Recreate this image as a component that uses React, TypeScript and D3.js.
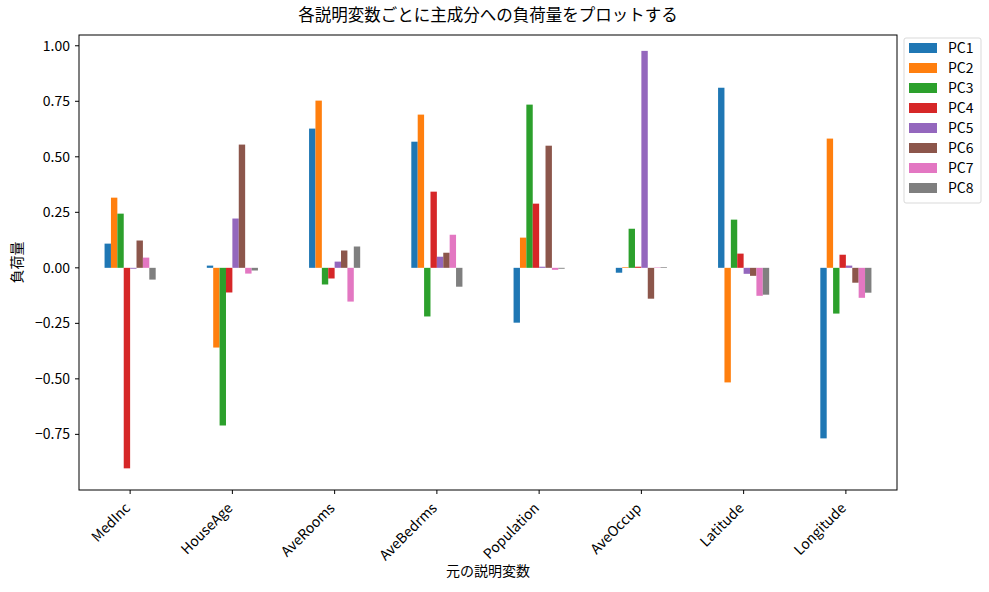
import * as d3 from 'd3'

const width = 989
const height = 592

const margin = { top: 35, right: 92, bottom: 102, left: 79 }
const innerWidth = width - margin.left - margin.right
const innerHeight = height - margin.top - margin.bottom

const font = '"Noto Sans CJK JP", "DejaVu Sans", sans-serif'

const variables = ['MedInc', 'HouseAge', 'AveRooms', 'AveBedrms', 'Population', 'AveOccup', 'Latitude', 'Longitude']
const components = ['PC1', 'PC2', 'PC3', 'PC4', 'PC5', 'PC6', 'PC7', 'PC8']
const colors = ['#1f77b4', '#ff7f0e', '#2ca02c', '#d62728', '#9467bd', '#8c564b', '#e377c2', '#7f7f7f']

// loadings: one row per variable, one value per component
const medInc = [0.109, 0.316, 0.244, -0.903, -0.004, 0.123, 0.046, -0.053]
const houseAge = [0.01, -0.359, -0.71, -0.111, 0.222, 0.555, -0.026, -0.012]
const aveRooms = [0.627, 0.753, -0.075, -0.048, 0.028, 0.078, -0.152, 0.096]
const aveBedrms = [0.568, 0.69, -0.219, 0.343, 0.05, 0.068, 0.149, -0.085]
const population = [-0.247, 0.136, 0.735, 0.289, 0.005, 0.55, -0.009, -0.004]
const aveOccup = [-0.022, 0.003, 0.176, 0.005, 0.977, -0.139, 0.002, 0.003]
const latitude = [0.811, -0.516, 0.217, 0.064, -0.027, -0.036, -0.126, -0.121]
const longitude = [-0.768, 0.582, -0.206, 0.059, 0.01, -0.067, -0.135, -0.112]

const loadings = [medInc, houseAge, aveRooms, aveBedrms, population, aveOccup, latitude, longitude]

const yTicks = [-0.75, -0.5, -0.25, 0, 0.25, 0.5, 0.75, 1.0]

const App = () => {
  const xScale = d3.scaleBand().domain(variables).range([0, innerWidth]).paddingInner(0.5).paddingOuter(0.25)
  const xInner = d3.scaleBand().domain(components).range([0, xScale.bandwidth()])
  const yScale = d3.scaleLinear().domain([-1.0005, 1.0485]).range([innerHeight, 0])

  return (
    <svg width={width} height={height} style={{ position: 'absolute', left: 0, top: 0, fontFamily: font }}>
      <rect width={width} height={height} fill="white" />
      <text x={margin.left + innerWidth / 2} y={21} textAnchor="middle" fontSize={16.5} fill="#000">
        各説明変数ごとに主成分への負荷量をプロットする
      </text>
      <g transform={`translate(${margin.left},${margin.top})`}>
        {loadings.map((row, i) => (
          <g key={variables[i]} transform={`translate(${xScale(variables[i])},0)`}>
            {row.map((v, j) => (
              <rect
                key={components[j]}
                x={xInner(components[j])}
                width={xInner.bandwidth()}
                y={yScale(Math.max(0, v))}
                height={Math.abs(yScale(v) - yScale(0))}
                fill={colors[j]}
              />
            ))}
          </g>
        ))}
        <rect width={innerWidth} height={innerHeight} fill="none" stroke="#000" strokeWidth={1} />
        {yTicks.map((t) => (
          <g key={t} transform={`translate(0,${yScale(t)})`}>
            <line x1={-4} x2={0} stroke="#000" />
            <text x={-9} dy="0.35em" textAnchor="end" fontSize={14} fill="#000">
              {t < 0 ? '\u2212' + Math.abs(t).toFixed(2) : t.toFixed(2)}
            </text>
          </g>
        ))}
        {variables.map((v) => {
          const cx = (xScale(v) ?? 0) + xScale.bandwidth() / 2
          return (
            <g key={v} transform={`translate(${cx},${innerHeight})`}>
              <line y2={4} stroke="#000" />
              <text transform="translate(1,19) rotate(-45)" textAnchor="end" fontSize={14} fill="#000">
                {v}
              </text>
            </g>
          )
        })}
        <text x={innerWidth / 2} y={innerHeight + 86} textAnchor="middle" fontSize={14} fill="#000">
          元の説明変数
        </text>
        <text transform={`translate(-57,${innerHeight / 2}) rotate(-90)`} textAnchor="middle" fontSize={14} fill="#000">
          負荷量
        </text>
      </g>
      <g transform="translate(904,38)">
        <rect width={77} height={165} rx={2} fill="white" stroke="#d9d9d9" />
        {components.map((c, j) => (
          <g key={c} transform={`translate(5,${5 + j * 20})`}>
            <rect width={28} height={10} fill={colors[j]} />
            <text x={39} y={5} dy="0.35em" fontSize={14} fill="#000">
              {c}
            </text>
          </g>
        ))}
      </g>
    </svg>
  )
}

export default App
